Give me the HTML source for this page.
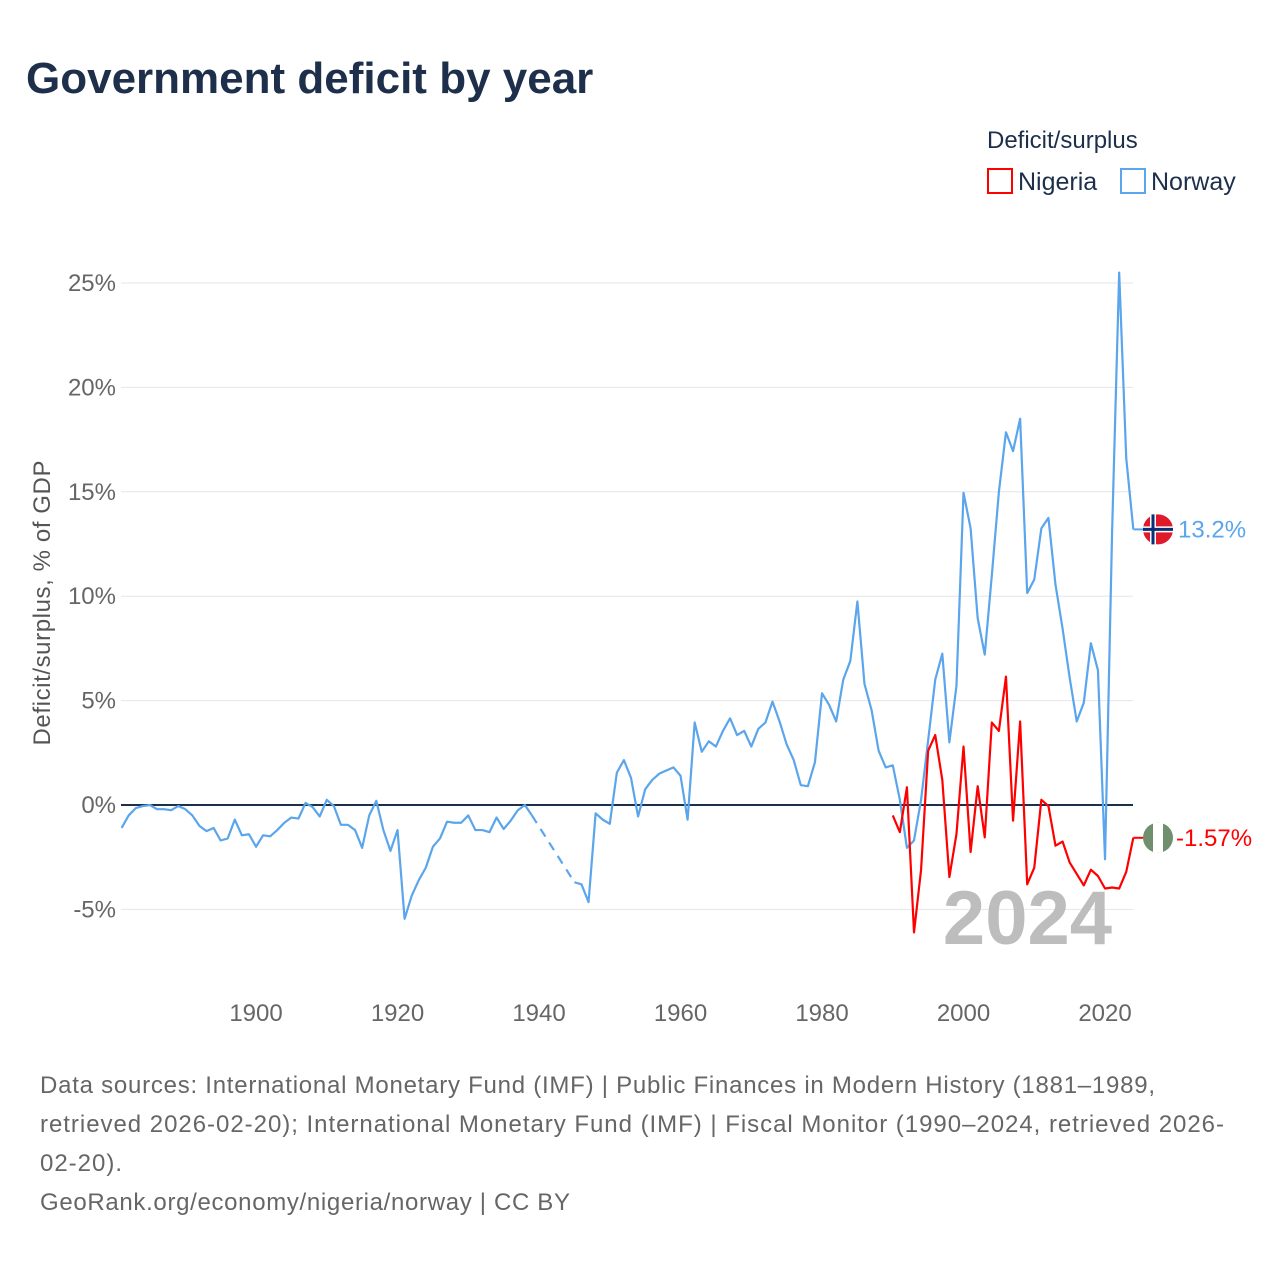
<!DOCTYPE html>
<html><head><meta charset="utf-8"><style>
body{margin:0;background:#fff;font-family:"Liberation Sans",sans-serif}
svg text{font-family:"Liberation Sans",sans-serif}
</style></head><body>
<svg width="1280" height="1280" viewBox="0 0 1280 1280" id="chart">
<text x="26" y="93" font-size="44" font-weight="bold" fill="#1d2f4a">Government deficit by year</text>
<text x="987" y="148" font-size="24" fill="#1d2f4a">Deficit/surplus</text>
<g><rect x="988" y="169" width="24" height="24" fill="none" stroke="#f00" stroke-width="2"/><text x="1018" y="190" font-size="25" fill="#1d2f4a">Nigeria</text></g>
<g><rect x="1121" y="169" width="24" height="24" fill="none" stroke="#5aa5ec" stroke-width="2"/><text x="1151" y="190" font-size="25" fill="#1d2f4a">Norway</text></g>
<text transform="translate(50,603) rotate(-90)" text-anchor="middle" font-size="24" textLength="285" fill="#555">Deficit/surplus, % of GDP</text>
<g id="grid"></g><g id="xt"></g><g id="series"></g>
<text x="1112" y="944" text-anchor="end" font-size="76" font-weight="bold" fill="#bdbdbd">2024</text>
<text x="40" y="1093" font-size="24" textLength="1115" fill="#666">Data sources: International Monetary Fund (IMF) | Public Finances in Modern History (1881–1989,</text>
<text x="40" y="1132" font-size="24" textLength="1184" fill="#666">retrieved 2026-02-20); International Monetary Fund (IMF) | Fiscal Monitor (1990–2024, retrieved 2026-</text>
<text x="40" y="1171" font-size="24" textLength="82" fill="#666">02-20).</text>
<text x="40" y="1210" font-size="24" textLength="530" fill="#666">GeoRank.org/economy/nigeria/norway | CC BY</text>
</svg>
<script>
const yTicks=[-5,0,5,10,15,20,25];
const xTicks=[1900,1920,1940,1960,1980,2000,2020];
const norwayStart=1881;
const norway=[-1.1,-0.5,-0.15,-0.05,0,-0.2,-0.2,-0.25,-0.05,-0.2,-0.5,-1.0,-1.25,-1.1,-1.7,-1.6,-0.7,-1.45,-1.4,-2.0,-1.45,-1.5,-1.2,-0.85,-0.6,-0.65,0.1,-0.1,-0.55,0.25,-0.05,-0.95,-0.95,-1.2,-2.05,-0.5,0.2,-1.2,-2.2,-1.2,-5.45,-4.35,-3.6,-3.0,-2.0,-1.6,-0.8,-0.85,-0.85,-0.5,-1.2,-1.2,-1.3,-0.6,-1.15,-0.75,-0.25,0,-0.5,null,null,null,null,null,-3.7,-3.8,-4.65,-0.4,-0.7,-0.9,1.55,2.15,1.3,-0.55,0.75,1.2,1.5,1.65,1.8,1.4,-0.7,3.95,2.55,3.05,2.8,3.55,4.15,3.35,3.55,2.8,3.65,3.95,4.95,4.0,2.9,2.15,0.95,0.9,2.05,5.35,4.8,4.0,6.0,6.9,9.75,5.8,4.55,2.6,1.8,1.9,0.25,-2.05,-1.7,0.25,3.1,6.0,7.25,3.0,5.7,14.95,13.25,8.95,7.2,11.0,15.0,17.85,16.95,18.5,10.15,10.8,13.25,13.75,10.55,8.45,6.1,4.0,4.9,7.75,6.45,-2.6,13.1,25.5,16.6,13.2];
const nigeriaStart=1990;
const nigeria=[-0.5,-1.3,0.85,-6.1,-3.1,2.6,3.35,1.2,-3.45,-1.4,2.8,-2.25,0.9,-1.55,3.95,3.55,6.15,-0.75,4.0,-3.8,-3.0,0.25,-0.05,-1.95,-1.75,-2.75,-3.3,-3.85,-3.1,-3.4,-4.0,-3.95,-4.0,-3.2,-1.57];
const X=y=>121.6+(y-1881)*7.075, Y=v=>805-v*20.88;
const NS="http://www.w3.org/2000/svg";
function mk(t,a,p){const e=document.createElementNS(NS,t);for(const k in a)e.setAttribute(k,a[k]);p.appendChild(e);return e;}
const g=document.getElementById('grid'),xt=document.getElementById('xt'),s=document.getElementById('series');
yTicks.forEach(v=>{
 const l=mk('line',{x1:121,x2:1133,y1:Y(v),y2:Y(v),stroke:v===0?'#1d2f4a':'#e6e6e6','stroke-width':v===0?2:1},g);
 
 
 const t=mk('text',{x:116,y:Y(v)+8,'text-anchor':'end','font-size':24,fill:'#666'},g);t.textContent=v+'%';
 
 
});
xTicks.forEach(v=>{const t=mk('text',{x:X(v),y:1021,'text-anchor':'middle','font-size':24,fill:'#666'},xt);t.textContent=v;
 
 });
function draw(arr,start,col,name){
 let segs=[],cur=[];arr.forEach((v,i)=>{if(v==null){if(cur.length)segs.push(cur);cur=[];}else cur.push([X(start+i),Y(v)]);});if(cur.length)segs.push(cur);
 segs.forEach((sg,i)=>{const p=mk('polyline',{points:sg.map(q=>q.join(',')).join(' '),fill:'none',stroke:col,'stroke-width':2.2,'stroke-linejoin':'round'},s);
  
  
  if(i<segs.length-1){const a=sg[sg.length-1],b=segs[i+1][0];const d=mk('line',{x1:a[0],y1:a[1],x2:b[0],y2:b[1],stroke:col,'stroke-width':2.2,'stroke-dasharray':'9,7'},s);
   
   }});
 const last=arr[arr.length-1],lx=X(start+arr.length-1),ly=Y(last);
 const h=mk('line',{x1:lx,x2:lx+12,y1:ly,y2:ly,stroke:col,'stroke-width':2},s);
 
 
 return [ly,last];
}
const [ny,nv]=draw(norway,norwayStart,'#5aa5ec','norway');
const [gy,gv]=draw(nigeria,nigeriaStart,'#ff0000','nigeria');
const f1=mk('g',{},s);
mk('circle',{cx:1158,cy:ny,r:15,fill:'#e0192b'},f1);mk('rect',{x:1143,y:ny-3,width:30,height:6,fill:'#fff'},f1);mk('rect',{x:1150,y:ny-15,width:6,height:30,fill:'#fff'},f1);
mk('rect',{x:1143,y:ny-1.5,width:30,height:3,fill:'#0b2e75'},f1);mk('rect',{x:1151.5,y:ny-15,width:3,height:30,fill:'#0b2e75'},f1);
const t1=mk('text',{x:1178,y:ny+8,'font-size':24,fill:'#5aa5ec'},s);t1.textContent=nv+'%';


const f2=mk('g',{},s);
mk('circle',{cx:1158,cy:gy,r:15,fill:'#6f8f6f'},f2);mk('rect',{x:1153,y:gy-15,width:10,height:30,fill:'#fff'},f2);
const t2=mk('text',{x:1176,y:gy+8,'font-size':24,fill:'#f00'},s);t2.textContent=gv+'%';


</script>
</body></html>
